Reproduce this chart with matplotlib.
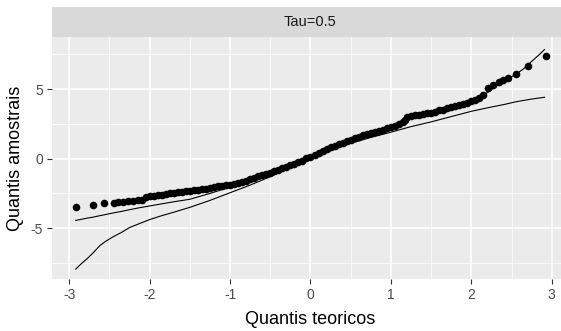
import matplotlib
matplotlib.use('Agg')
import matplotlib.pyplot as plt
from matplotlib.ticker import MultipleLocator

plt.rcParams['font.family'] = ['Liberation Sans', 'DejaVu Sans']
plt.rcParams['axes.unicode_minus'] = False

# sample quantiles (points) against theoretical quantiles
teo = [-2.92, -2.705, -2.57, -2.45, -2.39, -2.33, -2.27, -2.21,
       -2.15, -2.10, -2.05, -2.00, -1.95, -1.90, -1.85, -1.80, -1.75, -1.70,
       -1.65, -1.60, -1.55, -1.50, -1.45, -1.40, -1.35, -1.30, -1.25, -1.20,
       -1.15, -1.10, -1.05, -1.00, -0.95, -0.90, -0.85, -0.80, -0.75, -0.70,
       -0.65, -0.60, -0.55, -0.50, -0.45, -0.40, -0.35, -0.30, -0.25, -0.20,
       -0.15, -0.10, -0.05, 0.00, 0.05, 0.10, 0.15, 0.20, 0.25, 0.30,
       0.35, 0.40, 0.45, 0.50, 0.55, 0.60, 0.65, 0.70, 0.75, 0.80,
       0.85, 0.90, 0.95, 1.00, 1.05, 1.10, 1.15, 1.175, 1.20, 1.25,
       1.30, 1.35, 1.40, 1.45, 1.50, 1.55, 1.60, 1.65, 1.70, 1.75,
       1.80, 1.85, 1.90, 1.95, 2.00, 2.05, 2.10, 2.15,
       2.21, 2.27, 2.34, 2.40, 2.46, 2.56, 2.70, 2.925]
amo = [-3.50, -3.31, -3.17, -3.16, -3.14, -3.11, -3.06, -3.02,
       -2.98, -2.95, -2.76, -2.72, -2.66, -2.64, -2.58, -2.55, -2.49, -2.47,
       -2.42, -2.40, -2.35, -2.33, -2.27, -2.24, -2.18, -2.16, -2.09, -2.07,
       -2.00, -1.97, -1.91, -1.88, -1.80, -1.76, -1.66, -1.59, -1.47, -1.40,
       -1.28, -1.20, -1.09, -1.01, -0.89, -0.81, -0.69, -0.61, -0.49, -0.39,
       -0.24, -0.14, 0.01, 0.11, 0.28, 0.40, 0.57, 0.69, 0.86, 0.94,
       1.07, 1.15, 1.28, 1.36, 1.48, 1.55, 1.67, 1.74, 1.86, 1.92,
       2.02, 2.09, 2.19, 2.25, 2.38, 2.47, 2.60, 2.80, 3.00, 3.05,
       3.12, 3.16, 3.22, 3.25, 3.31, 3.37, 3.47, 3.53, 3.63, 3.69,
       3.79, 3.86, 3.96, 4.03, 4.13, 4.24, 4.38, 4.55,
       5.08, 5.32, 5.52, 5.68, 5.80, 6.09, 6.64, 7.36]

# simulated envelope bounds
env_x = [-2.92, -2.85, -2.78, -2.70, -2.62, -2.55, -2.45, -2.35, -2.25, -2.12,
         -2.00, -1.85, -1.70, -1.50, -1.25, -1.00, -0.75, -0.50, -0.25, 0.00,
         0.25, 0.50, 0.75, 1.00, 1.25, 1.50, 1.75, 2.00, 2.20, 2.40,
         2.55, 2.65, 2.75, 2.85, 2.91]
env_inf = [-7.94, -7.55, -7.20, -6.75, -6.25, -5.95, -5.60, -5.30, -4.95, -4.65,
           -4.38, -4.10, -3.85, -3.50, -3.00, -2.45, -1.90, -1.30, -0.65, 0.00,
           0.60, 1.10, 1.52, 1.90, 2.30, 2.64, 3.02, 3.40, 3.65, 3.88,
           4.08, 4.18, 4.28, 4.36, 4.41]
env_sup = [-4.44, -4.36, -4.28, -4.20, -4.10, -4.02, -3.90, -3.79, -3.67, -3.52,
           -3.40, -3.25, -3.10, -2.92, -2.50, -2.05, -1.60, -1.08, -0.50, 0.12,
           0.78, 1.30, 1.78, 2.20, 2.90, 3.20, 3.60, 4.10, 4.75, 5.55,
           6.05, 6.45, 6.98, 7.50, 7.84]

W, H = 561, 331
fig = plt.figure(figsize=(W / 100, H / 100), dpi=100)
fig.patch.set_facecolor('white')

# panel runs a little past the right edge of the figure
left, right, top, bottom = 52, 569, 37, 279
ax = fig.add_axes([left / W, 1 - bottom / H, (right - left) / W, (bottom - top) / H])
ax.set_facecolor('#EBEBEB')
for s in ax.spines.values():
    s.set_visible(False)

ax.scatter(teo, amo, s=30, color='black', linewidths=0, zorder=3)
ax.plot(env_x, env_inf, color='black', lw=0.8, zorder=4)
ax.plot(env_x, env_sup, color='black', lw=0.8, zorder=4)

ax.set_xlim(-3.215, 3.215)
ax.set_ylim(-8.65, 8.74)
ax.xaxis.set_major_locator(MultipleLocator(1))
ax.xaxis.set_minor_locator(MultipleLocator(0.5))
ax.yaxis.set_major_locator(MultipleLocator(5))
ax.yaxis.set_minor_locator(MultipleLocator(2.5))
ax.grid(which='major', color='white', lw=1.1)
ax.grid(which='minor', color='white', lw=0.55)
ax.set_axisbelow(True)
ax.tick_params(which='major', length=3.5, width=0.8, color='#333333',
               labelcolor='#4D4D4D', labelsize=10, pad=3)
ax.tick_params(which='minor', length=0)

fig.text(310.5 / W, 1 - 319 / H, 'Quantis teoricos', ha='center', va='center',
         fontsize=13, color='black')
fig.text(16 / W, 1 - 158 / H, 'Quantis amostrais', ha='center', va='center',
         rotation=90, fontsize=13, color='black')

# facet strip
strip = fig.add_axes([left / W, 1 - top / H, (right - left) / W, 30 / H])
strip.set_facecolor('#D9D9D9')
strip.set_xticks([])
strip.set_yticks([])
for s in strip.spines.values():
    s.set_visible(False)
strip.text(0.5, 0.5, 'Tau=0.5', ha='center', va='center', fontsize=10.5,
           color='#1A1A1A', transform=strip.transAxes)

fig.savefig('out.png', dpi=100)
